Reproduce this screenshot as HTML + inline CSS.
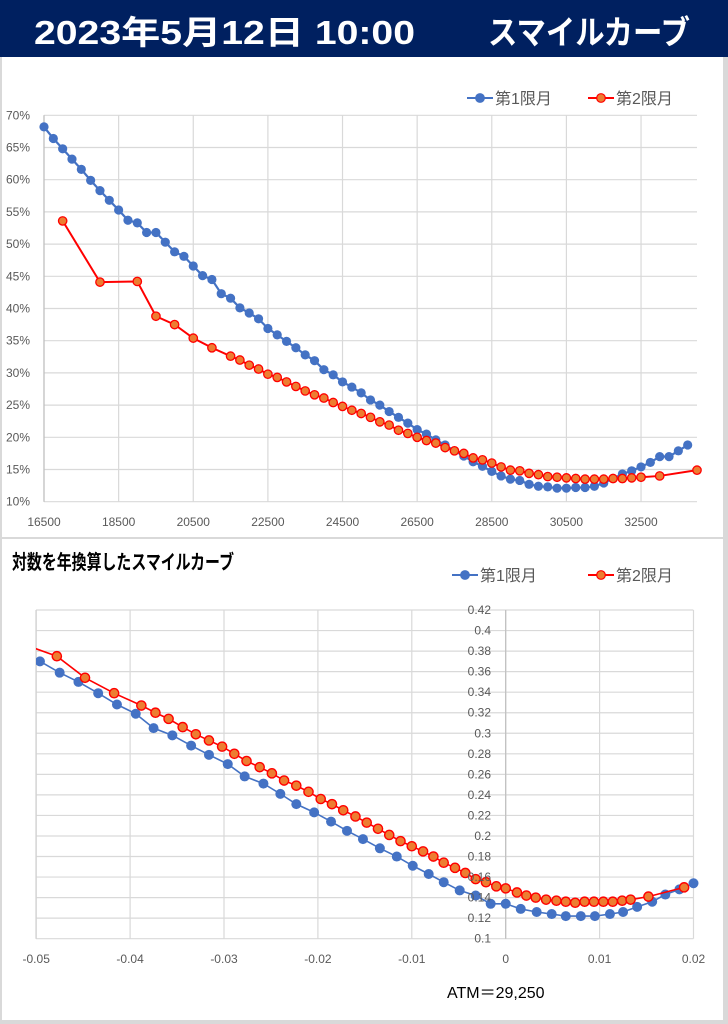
<!DOCTYPE html>
<html><head><meta charset="utf-8"><style>
html,body{margin:0;padding:0;background:#fff;}
svg{display:block;font-family:"Liberation Sans","Noto Sans CJK JP",sans-serif;}
</style></head><body>
<svg id="s" width="728" height="1024" viewBox="0 0 728 1024" xmlns="http://www.w3.org/2000/svg">
<rect x="0" y="0" width="728" height="1024" fill="#d9d9d9"/>
<rect x="2" y="57" width="721" height="480" fill="#fff"/>
<rect x="2" y="539" width="721" height="481" fill="#fff"/>
<rect x="0" y="0" width="728" height="57" fill="#002060"/>
<text x="34" y="44" fill="#fff" font-size="33" font-weight="bold" textLength="381" lengthAdjust="spacingAndGlyphs">2023年5月12日 10:00</text>
<text x="488" y="44" fill="#fff" font-size="33" font-weight="bold" textLength="202" lengthAdjust="spacingAndGlyphs">スマイルカーブ</text>
<g id="topChart"></g>
<g id="botChart"></g>
<text x="12" y="569" font-size="20" font-weight="bold" fill="#000" textLength="222" lengthAdjust="spacingAndGlyphs">対数を年換算したスマイルカーブ</text>
<text x="447" y="998" font-size="16" fill="#000">ATM＝29,250</text>
</svg>
<script>
// ---- top chart data ----
const topXTicks = [16500,18500,20500,22500,24500,26500,28500,30500,32500];
const topYTicks = [10,15,20,25,30,35,40,45,50,55,60,65,70];
const blueStrikeStart = 16500, strikeStep = 250;
const blueTop = [68.2,66.4,64.8,63.2,61.6,59.9,58.3,56.8,55.3,53.7,53.3,51.8,51.8,50.3,48.8,48.1,46.6,45.1,44.5,42.3,41.6,40.1,39.3,38.4,36.9,35.9,34.9,33.9,32.8,31.9,30.5,29.7,28.6,27.8,26.9,
25.8,25.0,24.0,23.1,22.2,21.2,20.5,19.6,18.8,17.9,17.1,16.2,15.5,14.7,14.0,13.5,13.3,12.7,12.4,12.3,12.1,12.1,12.2,12.2,12.4,12.9,13.6,14.3,14.8,15.4,16.1,17.0,17.0,17.9,18.8];
const redTopStrikes = [17000,18000,19000,19500,20000,20500,21000,21500,21750,22000,22250,22500,22750,23000,23250,23500,23750,24000,24250,24500,24750,25000,
25250,25500,25750,26000,26250,26500,26750,27000,27250,27500,27750,28000,28250,28500,28750,29000,29250,29500,29750,30000,30250,30500,30750,31000,31250,31500,31750,32000,32250,32500,33000,34000];
const redTop = [53.6,44.1,44.2,38.8,37.5,35.4,33.9,32.6,32.0,31.2,30.6,29.8,29.3,28.6,27.9,27.2,26.6,26.1,25.4,24.8,24.2,23.7,
23.1,22.4,21.9,21.1,20.6,20.0,19.5,19.1,18.4,17.9,17.5,16.8,16.5,16.0,15.4,14.9,14.8,14.4,14.2,13.9,13.8,13.7,13.6,13.5,13.5,13.5,13.6,13.6,13.7,13.8,14.0,14.9];
// ---- bottom chart data ----
const botXTicks = [-0.05,-0.04,-0.03,-0.02,-0.01,0,0.01,0.02];
const botYTicks = [0.1,0.12,0.14,0.16,0.18,0.2,0.22,0.24,0.26,0.28,0.3,0.32,0.34,0.36,0.38,0.4,0.42];
const blueBotX = [-0.0496,-0.0475,-0.0455,-0.0434,-0.0414,-0.0394,-0.0375,-0.0355,-0.0335,-0.0316,-0.0296,-0.0278,-0.0258,-0.0240,-0.0223,-0.0204,-0.0186,-0.0169,-0.0152,
-0.0134,-0.0116,-0.0099,-0.0082,-0.0066,-0.0049,-0.0032,-0.0016,0,0.0016,0.0033,0.0049,0.0064,0.0080,0.0095,0.0111,0.0125,0.0140,0.0156,0.0170,0.0185,0.0200];
const blueBotY = [0.370,0.359,0.350,0.339,0.328,0.319,0.305,0.298,0.288,0.279,0.270,0.258,0.251,0.241,0.231,0.223,0.214,0.205,0.197,
0.188,0.180,0.171,0.163,0.155,0.147,0.142,0.134,0.134,0.129,0.126,0.124,0.122,0.122,0.122,0.124,0.126,0.131,0.136,0.143,0.148,0.154];
const redBotX = [-0.0530,-0.0478,-0.0448,-0.0417,-0.0388,-0.0373,-0.0359,-0.0344,-0.0330,-0.0316,-0.0302,-0.0289,-0.0276,-0.0262,-0.0249,-0.0236,-0.0223,-0.0210,-0.0197,-0.0185,-0.0173,-0.0160,
-0.0148,-0.0136,-0.0124,-0.0112,-0.0100,-0.0088,-0.0077,-0.0066,-0.0054,-0.0043,-0.0032,-0.0021,-0.0010,0.0000,0.0012,0.0022,0.0032,0.0043,0.0054,0.0064,0.0074,0.0084,0.0094,0.0104,0.0114,0.0124,0.0133,0.0152,0.0190];
const redBotY = [0.392,0.375,0.354,0.339,0.327,0.320,0.314,0.306,0.299,0.293,0.287,0.280,0.273,0.267,0.261,0.254,0.249,0.243,0.236,0.231,0.225,0.219,
0.213,0.207,0.201,0.195,0.190,0.185,0.180,0.174,0.169,0.164,0.158,0.155,0.151,0.149,0.145,0.142,0.140,0.138,0.137,0.136,0.135,0.136,0.136,0.136,0.136,0.137,0.138,0.141,0.150];

const NS='http://www.w3.org/2000/svg';
function mk(parent,tag,attrs){const e=document.createElementNS(NS,tag);for(const k in attrs)e.setAttribute(k,attrs[k]);parent.appendChild(e);return e;}
const BLUE='#4472C4', RED='#FF0000', ORANGE='#ED7D31', GRID='#d9d9d9', TXT='#595959';

function legend(g,x,y,color,fill,label,name){
  const l=mk(g,'line',{x1:x,x2:x+26,y1:y,y2:y,stroke:color,'stroke-width':2});
  
  
  const c=mk(g,'circle',{cx:x+13,cy:y,r:4.3,fill:fill,stroke:color,'stroke-width':1.2});
  
  
  const t=mk(g,'text',{x:x+28,y:y+6,'font-size':16,fill:TXT});
  t.textContent=label;
  
  
}

// ---- top chart ----
const topG=document.getElementById('topChart');
const tx=v=>44+(v-16500)*(653/17500);
const ty=v=>115.3+(70-v)*6.44;
topYTicks.forEach(v=>{
  const l=mk(topG,'line',{x1:44,x2:697,y1:ty(v),y2:ty(v),stroke:GRID,'stroke-width':1.2});
  
  
  const t=mk(topG,'text',{x:30,y:ty(v)+4,'font-size':12,fill:TXT,'text-anchor':'end'});
  t.textContent=v+'%';
  
  
});
topXTicks.forEach(v=>{
  const l=mk(topG,'line',{x1:tx(v),x2:tx(v),y1:115.3,y2:501.7,stroke:GRID,'stroke-width':1.2});
  
  
  const t=mk(topG,'text',{x:tx(v),y:526,'font-size':12,fill:TXT,'text-anchor':'middle'});
  t.textContent=v;
  
  
});
{const l=mk(topG,'line',{x1:44,x2:44,y1:115.3,y2:501.7,stroke:'#bfbfbf','stroke-width':1.2});

}
const bPts=blueTop.map((v,i)=>[tx(blueStrikeStart+i*strikeStep),ty(v)]);
const rPts=redTop.map((v,i)=>[tx(redTopStrikes[i]),ty(v)]);
{const p=mk(topG,'polyline',{points:bPts.map(p=>p.join(',')).join(' '),fill:'none',stroke:BLUE,'stroke-width':2.2});

}
bPts.forEach(p=>{const c=mk(topG,'circle',{cx:p[0],cy:p[1],r:4.6,fill:BLUE});

});
{const p=mk(topG,'polyline',{points:rPts.map(p=>p.join(',')).join(' '),fill:'none',stroke:RED,'stroke-width':2});

}
rPts.forEach(p=>{const c=mk(topG,'circle',{cx:p[0],cy:p[1],r:4.2,fill:ORANGE,stroke:RED,'stroke-width':1.3});

});
legend(topG,467,98,BLUE,BLUE,'第1限月','top-legend-series-1');
legend(topG,588,98,RED,ORANGE,'第2限月','top-legend-series-2');

// ---- bottom chart ----
const botG=document.getElementById('botChart');
const bx=v=>505.7+v*9390;
const by=v=>610+(0.42-v)*1027.2;
botYTicks.forEach(v=>{
  const l=mk(botG,'line',{x1:36,x2:693.3,y1:by(v),y2:by(v),stroke:GRID,'stroke-width':1.2});
  
  
});
botXTicks.forEach(v=>{
  const l=mk(botG,'line',{x1:bx(v),x2:bx(v),y1:610,y2:938.7,stroke:GRID,'stroke-width':1.2});
  
  
  const t=mk(botG,'text',{x:bx(v),y:963,'font-size':12,fill:TXT,'text-anchor':'middle'});
  t.textContent=String(v);
  
  
});
{const l=mk(botG,'line',{x1:bx(0),x2:bx(0),y1:610,y2:938.7,stroke:'#bfbfbf','stroke-width':1.2});

}
{const l=mk(botG,'line',{x1:36,x2:36,y1:610,y2:938.7,stroke:'#d0d0d0','stroke-width':1.2});

}
const defs=mk(botG,'defs',{});
const cp=mk(defs,'clipPath',{id:'bclip'});
mk(cp,'rect',{x:36,y:600,width:680,height:345});
const bp=blueBotX.map((v,i)=>[bx(v),by(blueBotY[i])]);
const rp=redBotX.map((v,i)=>[bx(v),by(redBotY[i])]);
const cg=mk(botG,'g',{'clip-path':'url(#bclip)'});
{const p=mk(cg,'polyline',{points:bp.map(p=>p.join(',')).join(' '),fill:'none',stroke:BLUE,'stroke-width':1.6});

}
bp.forEach(p=>{const c=mk(cg,'circle',{cx:p[0],cy:p[1],r:5,fill:BLUE});

});
{const p=mk(cg,'polyline',{points:rp.map(p=>p.join(',')).join(' '),fill:'none',stroke:RED,'stroke-width':1.6});

}
rp.forEach(p=>{const c=mk(cg,'circle',{cx:p[0],cy:p[1],r:4.6,fill:ORANGE,stroke:RED,'stroke-width':1.4});

});
botYTicks.forEach(v=>{
  const t=mk(botG,'text',{x:491,y:by(v)+4,'font-size':12,fill:TXT,'text-anchor':'end'});
  t.textContent=String(v);
  
  
});
legend(botG,452,575,BLUE,BLUE,'第1限月','bottom-legend-series-1');
legend(botG,588,575,RED,ORANGE,'第2限月','bottom-legend-series-2');
</script>
</body></html>
